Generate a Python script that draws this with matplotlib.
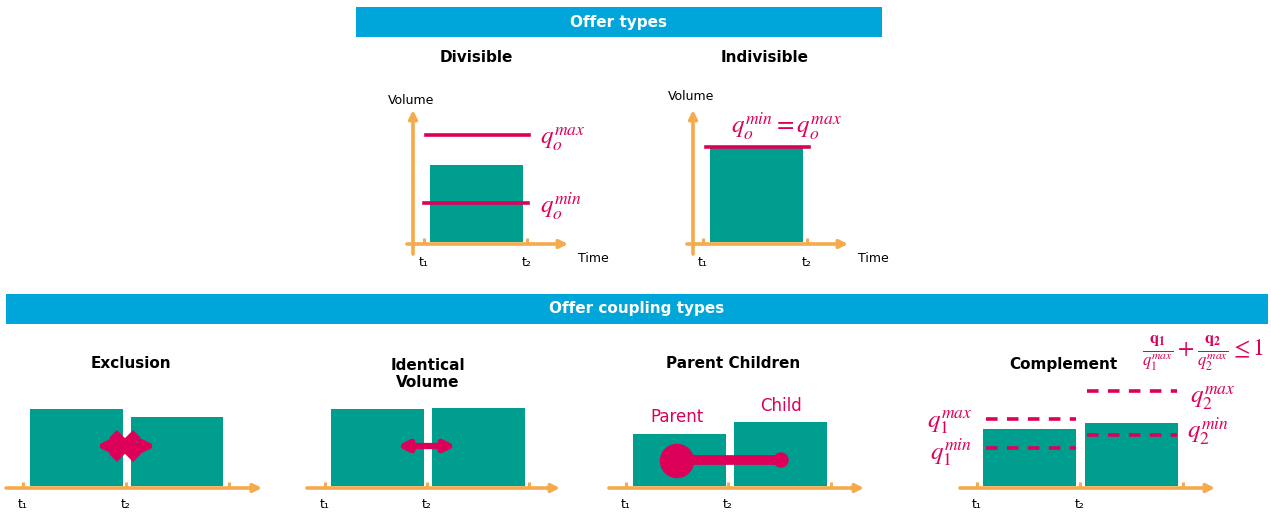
import matplotlib
matplotlib.use("Agg")
import matplotlib.pyplot as plt
from matplotlib.patches import Rectangle, Circle, FancyArrowPatch

plt.rcParams['font.family'] = ['DejaVu Sans']
plt.rcParams['mathtext.fontset'] = 'stix'

BLUE = '#00a6d9'
GREEN = '#009e8e'
MAGENTA = '#dc0058'
ORANGE = '#f5aa4c'

# header banners: (label, left, top, width)
headers = [('Offer types', 356, 7, 526), ('Offer coupling types', 6, 294, 1262)]

# top panels (pixel layout of the slide)
top_titles = ['Divisible', 'Indivisible']
top_origin_x = [413, 693]           # y-axis position
top_ticks = [[424, 527], [703, 807]]
top_bar_top = [165, 147]
top_bar_x = [[430, 523], [710, 803]]

# bottom panels
bottom_titles = ['Exclusion', 'Identical\nVolume', 'Parent Children', 'Complement']
bottom_title_x = [131, 428, 733, 1063]
bottom_axis = [(6, 262), (307, 560), (609, 864), (960, 1215)]
bottom_ticks = [[23, 126, 229], [325, 427, 529], [626, 728, 831], [977, 1080, 1183]]
bottom_bar_tops = [[409, 417], [409, 408], [434, 422], [429, 423]]
bottom_bar_x = [[(30, 123), (131, 223)], [(331, 424), (432, 525)],
                [(633, 726), (734, 827)], [(983, 1076), (1085, 1178)]]

fig = plt.figure(figsize=(12.71, 5.13), dpi=100)
ax = fig.add_axes([0, 0, 1, 1])
ax.set_xlim(0, 1271)
ax.set_ylim(513, 0)
ax.axis('off')


def arrow(x0, y0, x1, y1, color=ORANGE, lw=2.6, style='-|>', ms=12):
    ax.add_patch(FancyArrowPatch((x0, y0), (x1, y1), arrowstyle=style,
                                 mutation_scale=ms, color=color, lw=lw,
                                 shrinkA=0, shrinkB=0))


def bars(xs, tops, base):
    for (l, r), t in zip(xs, tops):
        ax.bar(l, t - base, width=r - l, bottom=base, align='edge', color=GREEN)


for label, left, top, w in headers:
    ax.add_patch(Rectangle((left, top), w, 30, color=BLUE, lw=0))
    ax.text(left + w / 2, top + 15, label, color='white', fontsize=11,
            fontweight='bold', ha='center', va='center')

# --- top panels ---
title_x = [476, 765]
vol_y = [100, 96]
for i in range(2):
    x0 = top_origin_x[i]
    ax.text(title_x[i], 57, top_titles[i], fontsize=11, fontweight='bold',
            ha='center', va='center')
    ax.text(x0 - 25, vol_y[i], 'Volume', fontsize=9, ha='left', va='center')
    bars([top_bar_x[i]], [top_bar_top[i]], 242)
    arrow(x0, 254, x0, 110)
    arrow(x0 - 6, 244, x0 + 155, 244)
    for tx, lab in zip(top_ticks[i], ['t₁', 't₂']):
        ax.plot([tx, tx], [238, 244], color=ORANGE, lw=2.2, solid_capstyle='butt')
        ax.text(tx, 262, lab, fontsize=9, ha='center', va='center')
    ax.text(x0 + 165, 258, 'Time', fontsize=9, ha='left', va='center')

# divisible limits
ax.plot([426, 529], [135, 135], color=MAGENTA, lw=2.6)
ax.plot([424, 528], [203, 203], color=MAGENTA, lw=2.6)
ax.text(540, 139, r'$q_o^{max}$', color=MAGENTA, fontsize=18, va='center')
ax.text(540, 207, r'$q_o^{min}$', color=MAGENTA, fontsize=18, va='center')

# indivisible limit
ax.plot([706, 809], [147, 147], color=MAGENTA, lw=2.6)
ax.text(787, 127, r'$q_o^{min}=q_o^{max}$', color=MAGENTA, fontsize=18,
        ha='center', va='center')

# --- bottom panels ---
for i in range(4):
    ax.text(bottom_title_x[i], 364 if i != 1 else 374, bottom_titles[i],
            fontsize=11, fontweight='bold', ha='center', va='center',
            linespacing=1.2)
    bars(bottom_bar_x[i], bottom_bar_tops[i], 486)
    a0, a1 = bottom_axis[i]
    arrow(a0, 488, a1, 488)
    for tx, lab in zip(bottom_ticks[i][:2], ['t₁', 't₂']):
        ax.text(tx, 505, lab, fontsize=9, ha='center', va='center')
    for tx in bottom_ticks[i]:
        ax.plot([tx, tx], [482, 488], color=ORANGE, lw=2.2, solid_capstyle='butt')

# exclusion: double arrow with cross
arrow(96, 446, 156, 446, color=MAGENTA, lw=4.5, style='<|-|>', ms=15)
ax.plot([113, 137], [434, 458], color=MAGENTA, lw=8, solid_capstyle='butt')
ax.plot([113, 137], [458, 434], color=MAGENTA, lw=8, solid_capstyle='butt')

# identical volume
arrow(397, 446, 456, 446, color=MAGENTA, lw=4.5, style='<|-|>', ms=15)

# parent / child link
ax.plot([677, 781], [460, 460], color=MAGENTA, lw=7)
ax.add_patch(Circle((677, 461), 16.5, color=MAGENTA))
ax.add_patch(Circle((781, 460), 7, color=MAGENTA))
ax.text(677, 417, 'Parent', color=MAGENTA, fontsize=12, ha='center', va='center')
ax.text(781, 406, 'Child', color=MAGENTA, fontsize=12, ha='center', va='center')

# complement limits
dash = dict(color=MAGENTA, lw=2.6, ls=(0, (3.2, 2.6)))
ax.plot([986, 1076], [419, 419], **dash)
ax.plot([986, 1076], [448, 448], **dash)
ax.plot([1087, 1177], [391, 391], **dash)
ax.plot([1087, 1177], [435, 435], **dash)
ax.text(972, 423, r'$q_1^{max}$', color=MAGENTA, fontsize=18, ha='right', va='center')
ax.text(972, 453, r'$q_1^{min}$', color=MAGENTA, fontsize=18, ha='right', va='center')
ax.text(1190, 398, r'$q_2^{max}$', color=MAGENTA, fontsize=18, ha='left', va='center')
ax.text(1187, 432, r'$q_2^{min}$', color=MAGENTA, fontsize=18, ha='left', va='center')
ax.text(1203, 353, r'$\frac{\mathbf{q_1}}{q_1^{max}}+\frac{\mathbf{q_2}}{q_2^{max}}\leq 1$',
        color=MAGENTA, fontsize=17, ha='center', va='center')

fig.savefig('out.png', dpi=100)
